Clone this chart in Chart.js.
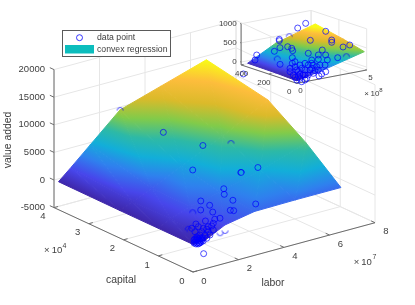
<!DOCTYPE html>
<html>
<head>
<meta charset="utf-8">
<style>
  html, body { margin: 0; padding: 0; background: #fff; }
  canvas { display: block; }
</style>
<script src="https://cdn.jsdelivr.net/npm/chart.js@4/dist/chart.umd.min.js"></script>
</head>
<body>
<canvas id="chart" width="415" height="305"></canvas>
<script>
// main axes: labor x1e7, capital x1e4
const laborTicks = [0, 2, 4, 6, 8];
const capitalTicks = [0, 1, 2, 3, 4];
const valueTicks = [-5000, 0, 5000, 10000, 15000, 20000];

const surfLabor = [0, 0.55, 1.4, 2.7, 4.5, 6.5];
const surfCapital = [0, 1, 2.1, 3.87];
const surfValue = [
  [0, 200, 1950, 2950, 3050, 3050],
  [0, 1100, 2400, 3500, 5500, 8200],
  [0, 1000, 2500, 5000, 8500, 12790],
  [70, 2050, 5213, 10054, 12350, 14900]
];

const pointLabor = [2.82, 3.49, 2.28, 4.38, 3.64, 2.27, 2.29, 2.67, 3.52, 2.25, 2.4, 1.87, 2.26, 1.56, 2.09, 1.31, 1.72, 1.95, 0.74, 1.28, 1.06, 1.35, 0.62, 1.35, 1.12, 0.25, 0.54, 0.76, 0.39, 0.69, 0.98, 0.61, 0.83, 1.05, 0.47, 0.69, 0.91, 0.39, 0.44, 0.48, 0.53, 0.57, 0.57, 0.61, 0.66, 0.7, 0.48, 0.35, 0.44, 0.53, 0.61, 0.75, 0.75, 0.39, 0.66, 0.53, 0.35];
const pointCapital = [2.7, 2, 1.5, 1, 1, 0.6, 0.6, 0.6, 0.5, 0.4, 0.4, 1, 1, 0.8, 0.8, 0.5, 0.5, 0.5, 0.4, 0.3, 0.3, 0.3, 0.1, 0.3, 0.3, 0.2, 0.2, 0.2, 0.2, 0.2, 0.2, 0.2, 0.2, 0.2, 0.2, 0.2, 0.2, 0.2, 0.2, 0.2, 0.2, 0.2, 0.2, 0.2, 0.2, 0.2, 0.2, 0.2, 0.2, 0.2, 0.2, 0.2, 0.2, 0.2, 0.2, 0.2, 0.2];
const pointValue = [9279, 8191, 6561, 6126, 6053, 5800, 4767, 3263, 1940, 2502, 2266, 2864, 1650, 2157, 1197, 1324, 1179, 1106, 1704, 1034, 690, 237, -2663, 1451, 1088, 2058, 2025, 1491, 1280, 952, 630, 438, 193, -51, 291, -243, -488, -586, -273, -865, -552, -238, -963, -649, -880, -566, 41, -175, -997, -1095, -1012, -253, -796, -42, -336, -99, -718];

// circles the surface partly hides
const partLabor = [2.6, 3.96, 3.64, 1.21, 0.4, 0.48, 1.34, 1.56];
const partCapital = [3.8, 1.5, 1, 0.8, 0.4, 0.4, 0.1, 0.1];
const partValue = [10275, 9478, 6053, 2049, 1125, 726, 327, 490];

// inset axes: labor x1e8, capital, value
const insetLaborTicks = [0, 5];
const insetCapitalTicks = [0, 200, 400];
const insetValueTicks = [0, 500, 1000];

const insetSurfLabor = [0, 2, 4.83];
const insetSurfCapital = [0, 150, 353];
const insetSurfValue = [
  [-10, 150, 416],
  [15, 300, 560],
  [25, 407, 715]
];

const insetLabor = [3.62, 3.05, 4.06, 1.24, 1.24, 2.96, 3.99, 3.99, 4.8, 4.78, 0.32, 0.39, 0.79, 1.34, 1.63, 1.7, 0.2, 0.3, 1.82, 2.82, 2.54, 3.06, 2.54, 3.18, 3.92, 0.68, 0.68, 0.87, 0.06, 0.02, 0.38, 0.73, 1.57, 1.68, 1.09, 1.57, 2.04, 2.52, 2.57, 2.09, 2.28, 0.02, 0.25, 0.61, 0.97, 1.32, 1.68, 0.73, 1.09, 0.5, 0.85, 1.57, 2.16, 1.32, 1.09, 0.5, 0.85, 1.93, 0.61, 1.45, 1.8, 1.21, 0.38, 0.73, 1.09];
const insetCapital = [300, 300, 200, 250, 250, 200, 150, 150, 150, 100, 320, 200, 200, 200, 200, 200, 320, 150, 100, 100, 100, 100, 100, 100, 100, 100, 100, 100, 390, 50, 50, 50, 50, 50, 50, 50, 50, 50, 50, 50, 50, 50, 50, 50, 50, 50, 50, 50, 50, 50, 50, 50, 50, 50, 50, 50, 50, 50, 50, 50, 50, 50, 50, 50, 50];
const insetValue = [879, 796, 760, 687, 651, 602, 598, 538, 359, 473, 257, 493, 559, 547, 485, 418, 135, 220, 462, 478, 368, 331, 255, 193, 201, 426, 280, 308, -304, 255, 272, 292, 364, 226, 136, 148, 71, 168, -11, -90, -51, 166, 64, 125, 15, -10, 9, -55, -125, -83, -153, 278, 192, 251, 311, 178, 197, 165, 13, 112, 69, -89, -5, 57, 6];

const insetPartLabor = [1.95, 0.2, 4.54];
const insetPartCapital = [250, 160, 100];
const insetPartValue = [706, 353, 184];

// screen direction of one axis unit (orthographic view)
const mainView = { ox: 193, oy: 272, lx: 22.75, ly: -6.16, kx: -34.75, ky: -16.1, zy: -0.00552, zBase: -5000 };
const insetView = { ox: 296.7, oy: 83.3, lx: 14, ly: -2.66, kx: -0.139, ky: -0.046, zy: -0.0383, zBase: -75 };

function project(v, l, k, z) {
  return { x: v.ox + v.lx * l + v.kx * k, y: v.oy + v.ly * l + v.ky * k + v.zy * (z - v.zBase) };
}

const parula = ['#3e26a8', '#4746eb', '#2f80ee', '#12aed9', '#2db9a6', '#81cb4a', '#dbba2a', '#fdbd3c', '#f9fb15'];
const blue = 'rgba(0,0,255,0.78)';
const datasets = [];

function push(ds) {
  ds.order = -datasets.length;
  datasets.push(ds);
}

function lines(segs, color) {
  const data = [];
  segs.forEach(s => data.push(s[0], s[1], { x: null, y: null }));
  push({ data, borderColor: color, borderWidth: 1, pointRadius: 0, fill: false, spanGaps: false });
}

function axesBox(v, ls, ks, zs, tickL, tickK, tickZ) {
  const l0 = ls[0], l1 = ls[ls.length - 1], k0 = ks[0], k1 = ks[ks.length - 1], z0 = v.zBase, z1 = zs[zs.length - 1];
  const grid = [];
  ls.forEach(l => {
    grid.push([project(v, l, k0, z0), project(v, l, k1, z0)]);
    grid.push([project(v, l, k1, z0), project(v, l, k1, z1)]);
  });
  ks.forEach(k => {
    grid.push([project(v, l0, k, z0), project(v, l1, k, z0)]);
    grid.push([project(v, l1, k, z0), project(v, l1, k, z1)]);
  });
  zs.forEach(z => {
    grid.push([project(v, l0, k1, z), project(v, l1, k1, z)]);
    grid.push([project(v, l1, k1, z), project(v, l1, k0, z)]);
  });
  lines(grid, '#e6e6e6');

  const axis = [
    [project(v, l0, k1, z0), project(v, l0, k1, z1)],
    [project(v, l0, k0, z0), project(v, l0, k1, z0)],
    [project(v, l0, k0, z0), project(v, l1, k0, z0)]
  ];
  ls.forEach(l => axis.push([project(v, l, k0, z0), project(v, l, k0 + tickK, z0)]));
  ks.forEach(k => axis.push([project(v, l0, k, z0), project(v, l0 + tickL, k, z0)]));
  zs.forEach(z => axis.push([project(v, l0, k1, z), project(v, l0, k1 + tickZ, z)]));
  lines(axis, '#6c6c6c');
}

// z is linear over a triangle, so a straight canvas gradient shades it exactly
function triangleShade(v, tri, cmin, cmax) {
  return ctx => {
    const chart = ctx.chart;
    if (!chart.chartArea) return parula[4];
    const p = tri.map(t => project(v, t[0], t[1], t[2]));
    const sx = chart.scales.x, sy = chart.scales.y;
    const x0 = sx.getPixelForValue(p[0].x), y0 = sy.getPixelForValue(p[0].y);
    const ax = sx.getPixelForValue(p[1].x) - x0, ay = sy.getPixelForValue(p[1].y) - y0;
    const bx = sx.getPixelForValue(p[2].x) - x0, by = sy.getPixelForValue(p[2].y) - y0;
    const da = tri[1][2] - tri[0][2], db = tri[2][2] - tri[0][2];
    const det = ax * by - ay * bx;
    const gx = (da * by - db * ay) / det, gy = (db * ax - da * bx) / det;
    const g2 = gx * gx + gy * gy;
    const s0 = (cmin - tri[0][2]) / g2, s1 = (cmax - tri[0][2]) / g2;
    const grad = chart.ctx.createLinearGradient(x0 + gx * s0, y0 + gy * s0, x0 + gx * s1, y0 + gy * s1);
    parula.forEach((c, i) => grad.addColorStop(i / (parula.length - 1), c));
    return grad;
  };
}

function addSurface(v, ls, ks, zz, cmin, cmax) {
  for (let j = 0; j < ks.length - 1; j++) {
    for (let i = 0; i < ls.length - 1; i++) {
      const a = [ls[i], ks[j], zz[j][i]], b = [ls[i + 1], ks[j], zz[j][i + 1]];
      const c = [ls[i + 1], ks[j + 1], zz[j + 1][i + 1]], d = [ls[i], ks[j + 1], zz[j + 1][i]];
      [[a, b, c], [a, c, d]].forEach(tri => {
        const shade = triangleShade(v, tri, cmin, cmax);
        const corners = tri.map(t => project(v, t[0], t[1], t[2]));
        push({
          data: [corners[0], corners[1], corners[2], corners[0]],
          fill: 'shape',
          backgroundColor: shade,
          borderColor: shade,
          borderWidth: 1,
          pointRadius: 0
        });
      });
    }
  }
}

function ringPart(a0, a1) {
  const c = document.createElement('canvas');
  c.width = 9;
  c.height = 9;
  const g = c.getContext('2d');
  g.strokeStyle = blue;
  g.lineWidth = 0.9;
  g.beginPath();
  g.arc(4.5, 4.5, 3, a0, a1);
  g.stroke();
  return c;
}

function circles(v, ls, ks, zs, style) {
  push({
    data: ls.map((l, i) => project(v, l, ks[i], zs[i])),
    showLine: false,
    fill: false,
    pointStyle: style || 'circle',
    pointRadius: 3,
    pointBorderColor: blue,
    pointBackgroundColor: 'rgba(0,0,0,0)',
    pointBorderWidth: 0.9
  });
}

const PI = Math.PI;
const partArcs = [[PI, 2 * PI], [PI, 2 * PI], [0.6 * PI, 2.1 * PI], [PI, 2.1 * PI], [0.9 * PI, 1.9 * PI], [0.9 * PI, 1.7 * PI], [0, PI], [0, PI]];
const insetPartArcs = [[PI, 2 * PI], [0.8 * PI, 2 * PI], [PI, 2 * PI]];

axesBox(mainView, laborTicks, capitalTicks, valueTicks, 0.18, 0.11, 0.12);
addSurface(mainView, surfLabor, surfCapital, surfValue, 0, 14900);
circles(mainView, pointLabor, pointCapital, pointValue);
circles(mainView, partLabor, partCapital, partValue, partArcs.map(a => ringPart(a[0], a[1])));

axesBox(insetView, insetLaborTicks, insetCapitalTicks, insetValueTicks, 0.18, 8, 6);
addSurface(insetView, insetSurfLabor, insetSurfCapital, insetSurfValue, 0, 680);
circles(insetView, insetLabor, insetCapital, insetValue);
circles(insetView, insetPartLabor, insetPartCapital, insetPartValue, insetPartArcs.map(a => ringPart(a[0], a[1])));

const textColor = '#404040';
const fontFamily = '"Liberation Sans", Arial, sans-serif';

const annotations = {
  id: 'annotations',
  afterDatasetsDraw(chart) {
    const ctx = chart.ctx;
    const px = chart.scales.x, py = chart.scales.y;
    const text = (s, x, y, size, align) => {
      ctx.font = size + 'px ' + fontFamily;
      ctx.textAlign = align || 'center';
      ctx.textBaseline = 'middle';
      ctx.fillStyle = textColor;
      ctx.fillText(s, px.getPixelForValue(x), py.getPixelForValue(y));
    };

    // legend
    ctx.save();
    ctx.fillStyle = '#fff';
    ctx.strokeStyle = '#5a5a5a';
    ctx.lineWidth = 1;
    ctx.fillRect(62.5, 30.5, 108, 26);
    ctx.strokeRect(62.5, 30.5, 108, 26);
    ctx.beginPath();
    ctx.arc(79.5, 37.7, 3, 0, 2 * PI);
    ctx.strokeStyle = blue;
    ctx.stroke();
    ctx.fillStyle = '#0cbdbd';
    ctx.fillRect(65, 45, 29, 8.5);
    text('data point', 97, 38, 8.7, 'left');
    text('convex regression', 97, 50, 8.7, 'left');

    // main axes text
    valueTicks.forEach(z => {
      const p = project(mainView, 0, 4, z);
      text(String(z), p.x - 9, p.y, 9.5, 'right');
    });
    capitalTicks.forEach(k => {
      const p = project(mainView, 0, k, -5000);
      text(String(k), p.x - 11, p.y + 9, 9.5);
    });
    laborTicks.forEach(l => {
      const p = project(mainView, l, 0, -5000);
      text(String(l), p.x + 11, p.y + 9, 9.5);
    });
    text('capital', 121, 280, 10.4);
    text('labor', 273, 283, 10.4);
    text('\u00d7', 46.7, 250.5, 9.5);
    text('10', 57, 250, 9.5);
    text('4', 64.5, 246, 7);
    text('\u00d7', 356.5, 262, 9.5);
    text('10', 366.5, 262, 9.5);
    text('7', 374.5, 257.5, 7);
    ctx.save();
    ctx.translate(px.getPixelForValue(8), py.getPixelForValue(140));
    ctx.rotate(-PI / 2);
    ctx.font = '10.4px ' + fontFamily;
    ctx.textAlign = 'center';
    ctx.textBaseline = 'middle';
    ctx.fillStyle = textColor;
    ctx.fillText('value added', 0, 0);
    ctx.restore();

    // inset text
    insetValueTicks.forEach(z => {
      const p = project(insetView, 0, 400, z);
      text(String(z), p.x - 4.4, p.y, 8, 'right');
    });
    const insetCapitalShift = [-7.5, -5, 0.5];
    insetCapitalTicks.forEach((k, i) => {
      const p = project(insetView, 0, k, -75);
      text(String(k), p.x + insetCapitalShift[i], p.y + 8.5, 8);
    });
    insetLaborTicks.forEach(l => {
      const p = project(insetView, l, 0, -75);
      text(String(l), p.x + 3.8, p.y + 7.4, 8);
    });
    text('\u00d7', 366.5, 94, 8);
    text('10', 375, 93.5, 8);
    text('8', 381, 90, 6);
    ctx.restore();
  }
};

new Chart(document.getElementById('chart'), {
  type: 'line',
  data: { datasets },
  options: {
    responsive: false,
    animation: false,
    layout: { padding: 0, autoPadding: false },
    elements: { line: { tension: 0 } },
    plugins: { legend: { display: false }, tooltip: { enabled: false } },
    scales: {
      x: { type: 'linear', min: 0, max: 415, display: false },
      y: { type: 'linear', min: 0, max: 305, reverse: true, display: false }
    }
  },
  plugins: [annotations]
});
</script>
</body>
</html>
